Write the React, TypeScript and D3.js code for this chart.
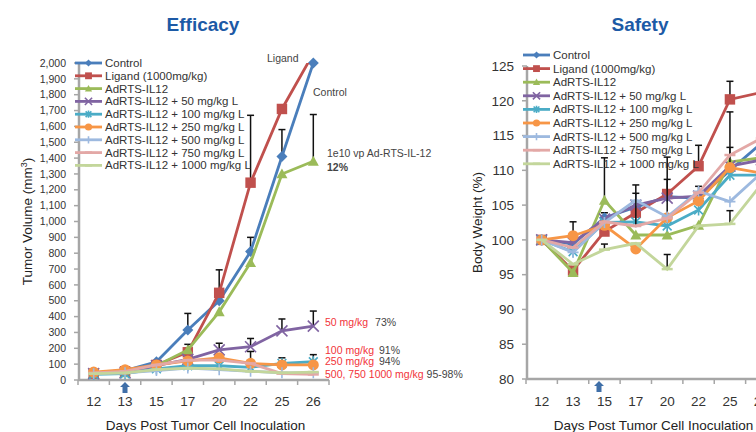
import React from 'react';
import * as d3 from 'd3';

// Days on the x axis (shared by both panels)
const days = ['12', '13', '15', '17', '20', '22', '25', '26'];

const seriesNames = [
  'Control',
  'Ligand (1000mg/kg)',
  'AdRTS-IL12',
  'AdRTS-IL12 + 50 mg/kg L',
  'AdRTS-IL12 + 100 mg/kg L',
  'AdRTS-IL12 + 250 mg/kg L',
  'AdRTS-IL12 + 500 mg/kg L',
  'AdRTS-IL12 + 750 mg/kg L',
  'AdRTS-IL12 + 1000 mg/kg L',
];
const seriesColors = ['#4a7ebb', '#c0504d', '#9bbb59', '#8064a2', '#4bacc6', '#f79646', '#9db9df', '#e3a8a6', '#c3d69b'];
const seriesMarkers = ['diamond', 'square', 'triangle', 'x', 'star', 'circle', 'plus', 'dash', 'dash'];

// Efficacy: tumor volume (mm3)
const tumorControl = [45, 60, 115, 315, 500, 810, 1410, 2000];
const tumorLigand = [40, 55, 95, 175, 550, 1245, 1710, 2060];
const tumorAdRTS = [40, 45, 90, 190, 430, 740, 1300, 1380];
const tumor50 = [40, 45, 90, 130, 190, 210, 310, 340];
const tumor100 = [35, 40, 70, 90, 90, 80, 105, 115];
const tumor250 = [50, 65, 95, 120, 140, 105, 95, 95];
const tumor500 = [40, 45, 60, 75, 65, 55, 45, 45];
const tumor750 = [45, 55, 95, 125, 125, 105, 40, 35];
const tumor1000 = [40, 45, 65, 75, 70, 55, 45, 50];

const tumorErrControl = [null, null, null, 105, null, 90, 170, null];
const tumorErrLigand = [null, null, null, 50, 145, 425, null, null];
const tumorErrAdRTS = [null, null, null, null, null, null, null, 295];
const tumorErr50 = [null, null, null, null, 42, 52, 75, 95];
const tumorErr100 = [null, null, null, null, null, null, 35, 45];
const tumorErr250 = [null, null, null, null, null, 75, null, null];
const noErr = [null, null, null, null, null, null, null, null];

// Safety: body weight (%)
const weightControl = [100, 99.4, 103.2, 104.7, 106.2, 106, 110, 113.9];
const weightLigand = [100, 95.6, 101.2, 103.9, 106.6, 110.6, 120.2, 121.2];
const weightAdRTS = [100, 95.3, 105.7, 100.7, 100.7, 102.1, 111.2, 111.8];
const weight50 = [100, 99.6, 103, 105, 106, 106.3, 110.6, 111.5];
const weight100 = [100, 98.3, 102.5, 102.6, 102, 104.3, 109.3, 109.3];
const weight250 = [100, 100.6, 102.1, 98.7, 103.2, 105.6, 110.4, 109.6];
const weight500 = [100, 98.2, 102.5, 105.7, 103.3, 107, 105.5, 109.6];
const weight750 = [100, 98.9, 102.6, 102, 103.1, 106.8, 112.2, 114.6];
const weight1000 = [100, 96.5, 98.6, 99.5, 95.8, 102, 102.3, 108];

const weightErrControl = [null, null, 0.7, null, 2.5, null, null, null];
const weightErrLigand = [null, null, null, null, null, 3.0, 2.6, null];
const weightErrAdRTS = [null, null, 6.1, null, null, null, null, null];
const weightErr100 = [null, null, null, null, null, null, 4, null];
const weightErr250 = [null, 2.0, null, null, 8.7, 2.1, null, null];
const weightErr500 = [null, null, null, 2.2, null, null, null, null];
const weightErr750 = [null, null, null, 4.7, null, null, 6.2, null];
const weightErr1000 = [null, null, 0.8, null, 2.1, null, 1.9, null];

const tumorSeries = [tumorControl, tumorLigand, tumorAdRTS, tumor50, tumor100, tumor250, tumor500, tumor750, tumor1000];
const tumorErrors = [tumorErrControl, tumorErrLigand, tumorErrAdRTS, tumorErr50, tumorErr100, tumorErr250, noErr, noErr, noErr];
const weightSeries = [weightControl, weightLigand, weightAdRTS, weight50, weight100, weight250, weight500, weight750, weight1000];
const weightErrors = [weightErrControl, weightErrLigand, weightErrAdRTS, noErr, weightErr100, weightErr250, weightErr500, weightErr750, weightErr1000];

const tumorTicks = d3.range(0, 2001, 100);
const weightTicks = d3.range(80, 126, 5);

const FONT = '"Liberation Sans", Arial, sans-serif';
const AXIS = '#a6a6a6';
const TITLE_BLUE = '#1c5aa6';

function Marker({ shape, x, y, s, color }) {
  switch (shape) {
    case 'diamond':
      return <path d={`M${x},${y - s}L${x + s},${y}L${x},${y + s}L${x - s},${y}Z`} fill={color} />;
    case 'square':
      return <rect x={x - s * 0.95} y={y - s * 0.95} width={s * 1.9} height={s * 1.9} fill={color} />;
    case 'triangle':
      return <path d={`M${x},${y - s}L${x + s},${y + s * 0.8}L${x - s},${y + s * 0.8}Z`} fill={color} />;
    case 'x':
      return <path d={`M${x - s},${y - s}L${x + s},${y + s}M${x - s},${y + s}L${x + s},${y - s}`} stroke={color} strokeWidth={1.6} fill="none" />;
    case 'star':
      return <path d={`M${x - s * 0.8},${y - s * 0.8}L${x + s * 0.8},${y + s * 0.8}M${x - s * 0.8},${y + s * 0.8}L${x + s * 0.8},${y - s * 0.8}M${x},${y - s}L${x},${y + s}`} stroke={color} strokeWidth={1.6} fill="none" />;
    case 'circle':
      return <circle cx={x} cy={y} r={s} fill={color} />;
    case 'plus':
      return <path d={`M${x - s},${y}L${x + s},${y}M${x},${y - s}L${x},${y + s}`} stroke={color} strokeWidth={1.6} fill="none" />;
    default:
      return <path d={`M${x - s},${y}L${x + s},${y}`} stroke={color} strokeWidth={2.5} fill="none" />;
  }
}

function Panel({ id, title, titleX, xRange, yDomain, yRange, yTicks, yFormat, yTitle, yTitleX, series, errors, legend, arrowX }) {
  const x = d3.scaleBand().domain(days).range(xRange).paddingInner(0).paddingOuter(0);
  const y = d3.scaleLinear().domain(yDomain).range(yRange);
  const cx = (d) => x(d) + x.bandwidth() / 2;
  const line = d3.line().x((d) => cx(d[0])).y((d) => y(d[1]));
  const [x0, x1] = xRange;
  const [yBottom, yTop] = yRange;

  return (
    <g fontFamily={FONT}>
      <defs>
        <clipPath id={id}>
          <rect x={x0} y={yTop} width={x1 - x0 + 40} height={yBottom - yTop + 20} />
        </clipPath>
      </defs>
      <text x={titleX} y={31} textAnchor="middle" fontSize={19} fontWeight="bold" fill={TITLE_BLUE}>{title}</text>

      {/* y axis */}
      <line x1={x0 + 1} x2={x0 + 1} y1={yTop} y2={yBottom} stroke={AXIS} strokeWidth={2.5} />
      {yTicks.map((t) => (
        <g key={t}>
          <line x1={x0 - 4} x2={x0 + 1} y1={y(t)} y2={y(t)} stroke={AXIS} strokeWidth={1.5} />
          <text x={x0 - 12} y={y(t)} dy="0.35em" textAnchor="end" fontSize={yFormat ? 10.5 : 13.5} fill="#333">
            {yFormat ? yFormat(t) : t}
          </text>
        </g>
      ))}
      <text transform={`translate(${yTitleX},${(yTop + yBottom) / 2}) rotate(-90)`} textAnchor="middle" fontSize={13.5} fill="#222">
        {yTitle}
      </text>

      {/* x axis */}
      <line x1={x0} x2={x1} y1={yBottom} y2={yBottom} stroke={AXIS} strokeWidth={2.5} />
      {d3.range(days.length + 1).map((i) => (
        <line key={i} x1={x0 + i * x.bandwidth()} x2={x0 + i * x.bandwidth()} y1={yBottom} y2={yBottom + 5} stroke={AXIS} strokeWidth={1.5} />
      ))}
      {days.map((d) => (
        <text key={d} x={cx(d)} y={406} textAnchor="middle" fontSize={13.5} fill="#333">{d}</text>
      ))}
      <text x={(x0 + (x0 + 251)) / 2 + 2} y={430} textAnchor="middle" fontSize={13.5} fill="#222">Days Post Tumor Cell Inoculation</text>
      <path d={`M${arrowX},${yBottom + 2}L${arrowX + 5},${yBottom + 7}L${arrowX + 2.5},${yBottom + 7}L${arrowX + 2.5},${yBottom + 13}L${arrowX - 2.5},${yBottom + 13}L${arrowX - 2.5},${yBottom + 7}L${arrowX - 5},${yBottom + 7}Z`} fill="#3f6fa8" />

      {/* series */}
      {series.map((vals, si) => {
        const pts = days.map((d, i) => [d, vals[i]]);
        const errs = errors[si];
        return (
          <g key={si}>
            {days.map((d, i) =>
              errs[i] == null ? null : (
                <g key={d} stroke="#111" strokeWidth={1.5}>
                  <line x1={cx(d)} x2={cx(d)} y1={y(vals[i])} y2={y(vals[i] + errs[i])} />
                  <line x1={cx(d) - 3.5} x2={cx(d) + 3.5} y1={y(vals[i] + errs[i])} y2={y(vals[i] + errs[i])} />
                </g>
              )
            )}
            <path d={line(pts)} fill="none" stroke={seriesColors[si]} strokeWidth={2.8} clipPath={`url(#${id})`} />
            {pts.map(([d, v]) =>
              v > yDomain[1] ? null : (
                <Marker key={d} shape={seriesMarkers[si]} x={cx(d)} y={y(v)} s={5.5} color={seriesColors[si]} />
              )
            )}
          </g>
        );
      })}

      {/* legend */}
      {seriesNames.map((name, i) => {
        const ly = legend.y + i * legend.step;
        return (
          <g key={name}>
            <line x1={legend.x} x2={legend.x + 27} y1={ly} y2={ly} stroke={seriesColors[i]} strokeWidth={2.8} />
            <Marker shape={seriesMarkers[i]} x={legend.x + 13.5} y={ly} s={3.6} color={seriesColors[i]} />
            <text x={legend.x + 30} y={ly} dy="0.35em" fontSize={11.5} fill="#333">{name}</text>
          </g>
        );
      })}
    </g>
  );
}

export default function App() {
  const red = '#f2333a';
  const gray = '#444';
  return (
    <svg width={756} height={432} style={{ position: 'absolute', left: 0, top: 0, background: '#fff', overflow: 'hidden' }}>
      <Panel
        id="clipEff"
        title="Efficacy"
        titleX={203}
        xRange={[78, 329]}
        yDomain={[0, 2000]}
        yRange={[380, 63]}
        yTicks={tumorTicks}
        yFormat={d3.format(',')}
        yTitle={<>Tumor Volume (mm<tspan dy="-5" fontSize={9}>3</tspan><tspan dy="5">)</tspan></>}
        yTitleX={32}
        series={tumorSeries}
        errors={tumorErrors}
        legend={{ x: 75, y: 63, step: 12.8 }}
        arrowX={125}
      />
      <Panel
        id="clipSaf"
        title="Safety"
        titleX={640}
        xRange={[526, 777]}
        yDomain={[80, 125]}
        yRange={[379, 66]}
        yTicks={weightTicks}
        yFormat={null}
        yTitle="Body Weight (%)"
        yTitleX={482}
        series={weightSeries}
        errors={weightErrors}
        legend={{ x: 523, y: 55, step: 13.6 }}
        arrowX={599}
      />

      {/* Efficacy annotations */}
      <g fontFamily={FONT} fontSize={10.5}>
        <text x={267} y={62} fill={gray}>Ligand</text>
        <text x={313} y={96} fill={gray}>Control</text>
        <text x={327} y={157} fill={gray}>1e10 vp Ad-RTS-IL-12</text>
        <text x={327} y={171} fill={gray} fontWeight="bold">12%</text>
        <text x={325} y={326} fill={red}>50 mg/kg <tspan fill={gray} dx={4}>73%</tspan></text>
        <text x={325} y={354} fill={red}>100 mg/kg <tspan fill={gray} dx={2}>91%</tspan></text>
        <text x={325} y={365} fill={red}>250 mg/kg <tspan fill={gray} dx={2}>94%</tspan></text>
        <text x={325} y={378} fill={red}>500, 750 1000 mg/kg <tspan fill={gray}>95-98%</tspan></text>
      </g>
    </svg>
  );
}
